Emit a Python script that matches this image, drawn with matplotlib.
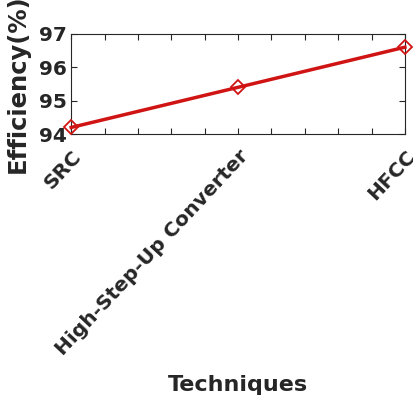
import matplotlib

matplotlib.use("Agg")

import matplotlib.pyplot as plt
import numpy as np

# efficiency of each converter technique
techniques = ["SRC", "High-Step-Up Converter", "HFCC"]
efficiency = [94.2, 95.4, 96.6]

tick_step = 0.2
y_ticks = [94, 95, 96, 97]


def main():
    plt.rcParams["font.family"] = "DejaVu Sans"
    plt.rcParams["font.weight"] = "bold"

    fig = plt.figure(figsize=(4.14, 3.98), dpi=100)
    ax = fig.add_axes([0.172, 0.663, 0.806, 0.252])

    x = np.arange(1, len(techniques) + 1)
    ax.plot(x, efficiency, color="#d01414", linewidth=2.5, marker="D",
            markersize=7, markerfacecolor="none", markeredgewidth=1.3,
            clip_on=False, zorder=3)

    ax.set_xlim(1, len(techniques))
    ax.set_ylim(94, 97)

    # tick every 0.2 along x, labels only on the categories
    xt = np.arange(1, len(techniques) + tick_step / 2, tick_step)
    ax.set_xticks(xt)
    ax.set_xticklabels([techniques[int(round(v)) - 1] if abs(v - round(v)) < 1e-6 else ""
                        for v in xt],
                       rotation=47, ha="right", rotation_mode="anchor",
                       fontsize=14.5, fontweight="bold", color="#262626")
    ax.set_yticks(y_ticks)
    ax.set_yticklabels([str(v) for v in y_ticks], fontsize=14.5,
                       fontweight="bold", color="#262626")

    ax.tick_params(direction="in", top=True, right=True, length=4,
                   width=0.8, color="#262626", pad=3)
    ax.tick_params(axis="x", pad=9)
    for s in ax.spines.values():
        s.set_color("#262626")
        s.set_linewidth(0.8)

    ax.set_ylabel("Efficiency(%)", fontsize=17.5, fontweight="bold",
                  color="#262626")
    ax.yaxis.set_label_coords(-0.125, 0.5)
    ax.set_xlabel("Techniques", fontsize=16, fontweight="bold",
                  color="#262626")
    ax.xaxis.set_label_coords(0.5, -2.40)

    fig.savefig("out.png", dpi=100, facecolor="white")
    plt.close(fig)


if __name__ == "__main__":
    main()
